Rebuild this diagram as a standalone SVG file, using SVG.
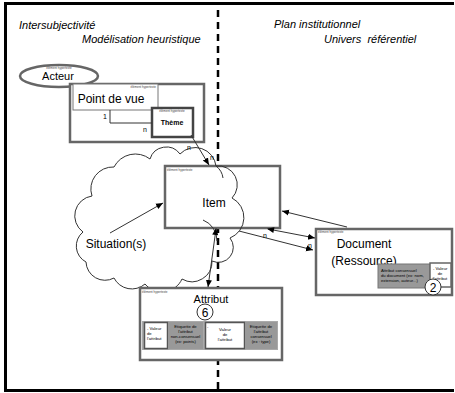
<svg xmlns="http://www.w3.org/2000/svg" width="455" height="393" viewBox="0 0 455 393">
<defs>
<marker id="ah" markerWidth="8" markerHeight="8" refX="7" refY="4" orient="auto" markerUnits="userSpaceOnUse">
<path d="M0,1 L7,4 L0,7 Z" fill="#000"/>
</marker>
<marker id="ahs" markerWidth="8" markerHeight="8" refX="1" refY="4" orient="auto" markerUnits="userSpaceOnUse">
<path d="M7,1 L0,4 L7,7 Z" fill="#000"/>
</marker>
</defs>
<style>
.ttl{font-family:"Liberation Sans",Arial,sans-serif;font-style:italic;font-size:11px;fill:#000}
.lbl{font-family:"Liberation Sans",Arial,sans-serif;fill:#000}
.tiny{font-family:"Liberation Sans",Arial,sans-serif;font-size:3px;fill:#444}
.box{fill:#fff;stroke:#666;stroke-width:2.5}
.thin{fill:#fff;stroke:#777;stroke-width:1}
.con{fill:none;stroke:#333;stroke-width:1}
.sm{font-family:"Liberation Sans",Arial,sans-serif;font-size:4.2px;fill:#000}
.n{font-family:"Liberation Sans",Arial,sans-serif;font-size:7px;fill:#000}
</style>
<rect width="455" height="393" fill="#fff"/>
<g id="frame" stroke="#000" stroke-width="3" fill="none">
<line x1="4" y1="3.5" x2="454" y2="3.5"/>
<line x1="5.5" y1="3" x2="5.5" y2="391"/>
<line x1="4" y1="390.5" x2="454" y2="390.5"/>
</g>
<line id="divider" x1="218" y1="10" x2="218" y2="390" stroke="#000" stroke-width="2.5" stroke-dasharray="7,5"/>
<g id="titles">
<text class="ttl" x="19" y="29">Intersubjectivité</text>
<text class="ttl" x="82" y="43">Modélisation heuristique</text>
<text class="ttl" x="274" y="28">Plan institutionnel</text>
<text class="ttl" x="324" y="43" xml:space="preserve">Univers  référentiel</text>
</g>
<g id="acteur">
<ellipse cx="59" cy="76" rx="39" ry="11" fill="#fff" stroke="#666" stroke-width="2.5"/>
<text class="tiny" x="59" y="69" text-anchor="middle">élément hypertexte</text>
<text class="lbl" x="58" y="80" font-size="11" text-anchor="middle">Acteur</text>
</g>
<g id="pointdevue">
<rect class="box" x="70" y="84" width="134" height="58"/>
<rect class="thin" x="73" y="84" width="85" height="26"/>
<text class="tiny" x="156" y="88" text-anchor="end">élément hypertexte</text>
<text class="lbl" x="111" y="103" font-size="12" text-anchor="middle">Point de vue</text>
</g>
<g id="theme">
<rect x="152" y="108" width="41" height="29" fill="#fff" stroke="#444" stroke-width="2.5"/>
<text class="tiny" x="172" y="111.5" text-anchor="middle">élément hypertexte</text>
<text class="lbl" x="172" y="125" font-size="7" font-weight="bold" text-anchor="middle">Thème</text>
</g>
<g id="item">
<rect class="box" x="165" y="166" width="115" height="62"/>
<text class="tiny" x="167" y="170.5">élément hypertexte</text>
<text class="lbl" x="214" y="207" font-size="12" text-anchor="middle">Item</text>
</g>
<g id="situation">
<path class="con" stroke="#222" d="M86,262 A18,18 0 0 1 83,232 A20,20 0 0 1 92,196 A22,22 0 0 1 114,167 A24,24 0 0 1 150,159 A17,17 0 0 1 180,154 A21,21 0 0 1 216,166 A19,19 0 0 1 232,198 A22,22 0 0 1 230,238 A15,15 0 0 1 212,261 A20,20 0 0 1 182,279 A22,22 0 0 1 145,284 A20,20 0 0 1 114,278 A19,19 0 0 1 86,262"/>
<path class="con" stroke="#222" d="M203,220 A22,22 0 0 1 217,241 M216,166 A18,18 0 0 1 223,178"/>
<text class="lbl" x="116" y="248" font-size="12" font-family="'Open Sans',sans-serif" text-anchor="middle">Situation(s)</text>
</g>
<g id="document">
<rect class="box" x="316" y="229" width="136" height="66"/>
<text class="tiny" x="318" y="233">élément hypertexte</text>
<text class="lbl" x="364" y="248" font-size="12" text-anchor="middle">Document</text>
<text class="lbl" x="364" y="265" font-size="12" text-anchor="middle">(Ressource)</text>
<rect x="378" y="264" width="52" height="24" fill="#999" stroke="#777" stroke-width="1"/>
<text class="sm" x="381" y="272">Attribut consensuel</text>
<text class="sm" x="381" y="277">du document (ex: nom,</text>
<text class="sm" x="381" y="282">extension, auteur...)</text>
<rect x="430" y="263" width="21" height="24" fill="#fff" stroke="#666" stroke-width="1.5"/>
<text class="sm" x="433" y="270">- Valeur</text>
<text class="sm" x="440" y="275" text-anchor="middle">de</text>
<text class="sm" x="440" y="280" text-anchor="middle">l'attribut</text>
<circle cx="433" cy="287" r="8" fill="#fff" stroke="#333" stroke-width="1"/>
<text class="lbl" x="433" y="291.5" font-size="12" text-anchor="middle">2</text>
</g>
<g id="attribut">
<rect class="box" x="140" y="288" width="142" height="72"/>
<text class="tiny" x="142" y="292.5">élément hypertexte</text>
<text class="lbl" x="211" y="303" font-size="11" text-anchor="middle">Attribut</text>
<circle cx="205" cy="312" r="8" fill="#fff" stroke="#333" stroke-width="1"/>
<text class="lbl" x="205" y="316.5" font-size="12" text-anchor="middle">6</text>
<rect x="142" y="321" width="136" height="29" fill="#aaa"/>
<rect x="144.5" y="322.5" width="23" height="26" fill="#fff" stroke="#555" stroke-width="1.5"/>
<text class="sm" x="147" y="330">- Valeur</text>
<text class="sm" x="147" y="335">de</text>
<text class="sm" x="147" y="340">l'attribut</text>
<rect x="168" y="322" width="35" height="27" fill="#999"/>
<text class="sm" x="185.5" y="328" text-anchor="middle">Etiquette de</text>
<text class="sm" x="185.5" y="333" text-anchor="middle">l'attribut</text>
<text class="sm" x="185.5" y="338" text-anchor="middle">non-consensuel</text>
<text class="sm" x="185.5" y="343" text-anchor="middle">(ex: points)</text>
<rect x="205.5" y="322.5" width="39" height="26" fill="#fff" stroke="#555" stroke-width="1.5"/>
<text class="sm" x="207" y="328">-</text>
<text class="sm" x="225" y="331" text-anchor="middle">Valeur</text>
<text class="sm" x="225" y="336" text-anchor="middle">de</text>
<text class="sm" x="225" y="341" text-anchor="middle">l'attribut</text>
<rect x="245" y="322" width="32" height="27" fill="#999"/>
<text class="sm" x="261" y="328" text-anchor="middle">Etiquette de</text>
<text class="sm" x="261" y="333" text-anchor="middle">l'attribut</text>
<text class="sm" x="261" y="338" text-anchor="middle">consensuel</text>
<text class="sm" x="261" y="343" text-anchor="middle">(ex : type)</text>
</g>
<g id="connectors">
<polyline class="con" points="110,110 110,123 152,123"/>
<text class="n" x="103" y="119">1</text>
<text class="n" x="143" y="132">n</text>
<line class="con" x1="191" y1="135" x2="209" y2="165" marker-end="url(#ah)"/>
<text class="n" x="187" y="150">n</text>
<text class="n" x="210" y="160">n</text>
<line class="con" x1="110" y1="233" x2="163" y2="203" marker-end="url(#ah)"/>
<line class="con" x1="347" y1="227" x2="282" y2="211" marker-end="url(#ah)"/>
<line class="con" x1="268" y1="229" x2="315" y2="238" marker-start="url(#ahs)" marker-end="url(#ah)"/>
<line class="con" x1="239" y1="231" x2="313" y2="250" marker-end="url(#ah)"/>
<text class="n" x="263" y="238">n</text>
<text class="n" x="308" y="248">n</text>
<line class="con" x1="216" y1="229" x2="208" y2="287" marker-start="url(#ahs)" marker-end="url(#ah)"/>
</g>
</svg>
